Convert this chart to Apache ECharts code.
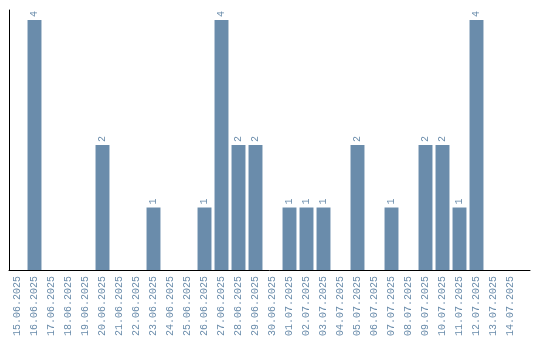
<!DOCTYPE html>
<html><head><meta charset="utf-8">
<script src="https://cdn.jsdelivr.net/npm/echarts@6/dist/echarts.min.js"></script>
<style>html,body{margin:0;padding:0;background:#fff}#c{width:540px;height:340px}</style>
</head><body><div id="c"></div>
<script>
const categories = ["15.06.2025","16.06.2025","17.06.2025","18.06.2025","19.06.2025","20.06.2025","21.06.2025","22.06.2025","23.06.2025","24.06.2025","25.06.2025","26.06.2025","27.06.2025","28.06.2025","29.06.2025","30.06.2025","01.07.2025","02.07.2025","03.07.2025","04.07.2025","05.07.2025","06.07.2025","07.07.2025","08.07.2025","09.07.2025","10.07.2025","11.07.2025","12.07.2025","13.07.2025","14.07.2025"];
const values = [0,4,0,0,0,2,0,0,1,0,0,1,4,2,2,0,1,1,1,0,2,0,1,0,2,2,1,4,0,0];
const yMax = 4.16;

const color = '#6a8cab';
const font = '"Liberation Mono", monospace';
const chart = echarts.init(document.getElementById('c'));
chart.setOption({
  animation: false,
  grid: [
    {left: 9, right: 21, top: 10, bottom: 70, containLabel: false},
    {left: 9, right: 10, top: 10, bottom: 70, containLabel: false}
  ],
  xAxis: [{
    type: 'category', data: categories, gridIndex: 0,
    axisLine: {show: false},
    axisTick: {show: false},
    axisLabel: {rotate: 90, color: color, fontFamily: font, fontSize: 10, margin: 6, interval: 0}
  }, {
    type: 'value', gridIndex: 1, min: 0, max: 1,
    axisLine: {show: true, onZero: false, lineStyle: {color: '#000', width: 1}},
    axisTick: {show: false}, axisLabel: {show: false}, splitLine: {show: false}
  }],
  yAxis: [{
    type: 'value', gridIndex: 0, min: 0, max: yMax,
    axisLine: {show: true, lineStyle: {color: '#000', width: 1}},
    axisTick: {show: false}, axisLabel: {show: false}, splitLine: {show: false}
  }, {
    type: 'value', gridIndex: 1, min: 0, max: 1, show: false
  }],
  series: [{
    type: 'bar', xAxisIndex: 0, yAxisIndex: 0,
    data: values.map(v => v === 0 ? null : v),
    itemStyle: {color: color},
    barCategoryGap: '18%',
    label: {
      show: true, position: 'top', rotate: 90, align: 'left', verticalAlign: 'middle',
      distance: 3, color: color, fontFamily: font, fontSize: 10
    }
  }]
});
</script></body></html>
